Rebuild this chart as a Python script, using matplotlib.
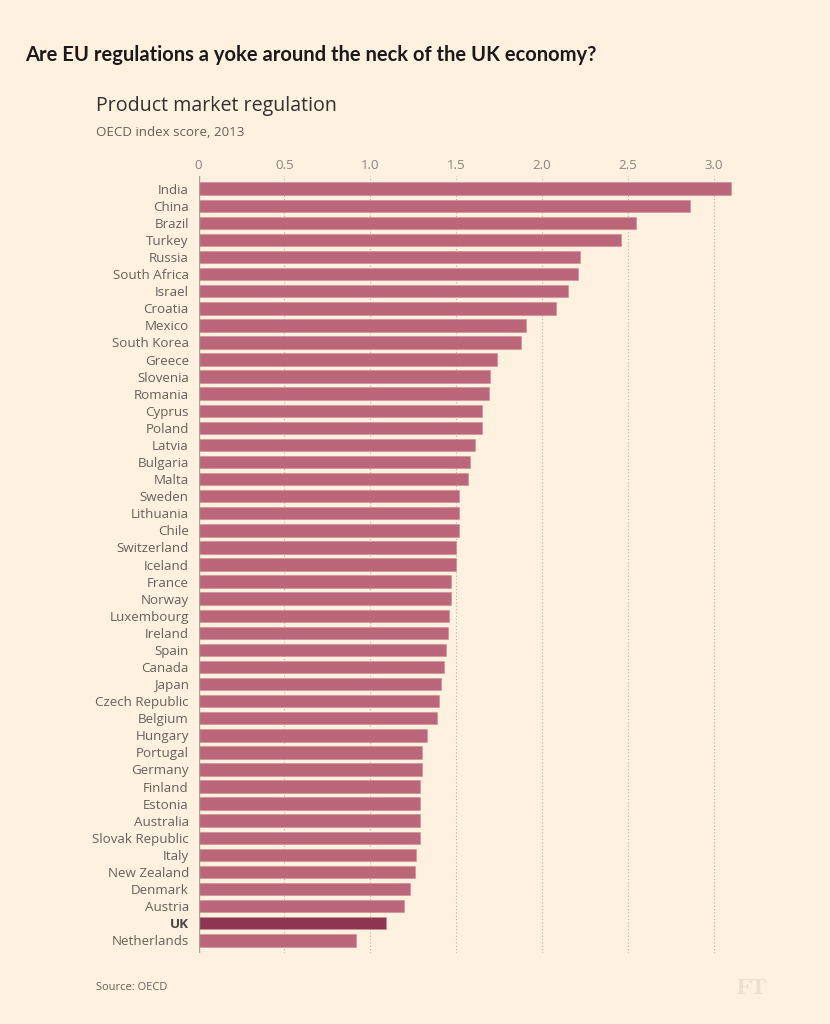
import matplotlib
matplotlib.use("Agg")
import matplotlib.pyplot as plt
from matplotlib import font_manager as fm

countries = ["India", "China", "Brazil", "Turkey", "Russia", "South Africa", "Israel",
             "Croatia", "Mexico", "South Korea", "Greece", "Slovenia", "Romania", "Cyprus",
             "Poland", "Latvia", "Bulgaria", "Malta", "Sweden", "Lithuania", "Chile",
             "Switzerland", "Iceland", "France", "Norway", "Luxembourg", "Ireland", "Spain",
             "Canada", "Japan", "Czech Republic", "Belgium", "Hungary", "Portugal", "Germany",
             "Finland", "Estonia", "Australia", "Slovak Republic", "Italy", "New Zealand",
             "Denmark", "Austria", "UK", "Netherlands"]
scores = [3.10, 2.86, 2.55, 2.46, 2.22, 2.21, 2.15, 2.08, 1.91, 1.88, 1.74, 1.70, 1.69,
          1.65, 1.65, 1.61, 1.58, 1.57, 1.52, 1.52, 1.52, 1.50, 1.50, 1.47, 1.47, 1.46,
          1.455, 1.44, 1.43, 1.41, 1.40, 1.39, 1.33, 1.30, 1.30, 1.29, 1.29, 1.29, 1.29,
          1.265, 1.26, 1.23, 1.195, 1.09, 0.92]
highlight = "UK"
xticks = [0, 0.5, 1.0, 1.5, 2.0, 2.5, 3.0]
xticklabels = ["0", "0.5", "1.0", "1.5", "2.0", "2.5", "3.0"]

available = {f.name for f in fm.fontManager.ttflist}
def pick(*names):
    for n in names:
        if n in available:
            return n
    return "DejaVu Sans"

body_font = pick("Liberation Sans Narrow", "Open Sans", "Lato", "DejaVu Sans")
head_font = pick("Lato", "Open Sans", "DejaVu Sans")

BG = "#fff1e0"
BAR = "#bc6679"
BAR_HI = "#8e3650"
GRID = "#b9b0a6"
TXT = "#66605c"

W, H = 830, 1024
fig = plt.figure(figsize=(W / 100, H / 100), dpi=100, facecolor=BG)

left_px, right_px = 198.5, 198.5 + 171.7 * 3.2
top_px, bot_px = 176, 953
ax = fig.add_axes([left_px / W, 1 - bot_px / H, (right_px - left_px) / W, (bot_px - top_px) / H])
ax.set_facecolor(BG)

n = len(countries)
ypos = list(range(n))
colors = [BAR_HI if c == highlight else BAR for c in countries]
ax.barh(ypos, scores, height=0.73, color=colors, edgecolor="#d08a9a", linewidth=0.4, zorder=3)

ax.set_xlim(0, 3.2)
ax.set_ylim(n - 1 + 0.744, -0.744)

for xv in xticks[1:]:
    ax.axvline(xv, color=GRID, lw=0.8, ls=(0, (1, 2)), zorder=1)
ax.axvline(0, color="#a8a09a", lw=1.0, zorder=4)

for s in ax.spines.values():
    s.set_visible(False)

ax.xaxis.tick_top()
ax.set_xticks(xticks)
ax.set_xticklabels(xticklabels, fontsize=9.5, color="#8a837d", family=body_font)
ax.tick_params(axis="x", length=0, pad=3)

ax.set_yticks(ypos)
ax.set_yticklabels(countries, fontsize=9.6, color=TXT, family=body_font)
ax.tick_params(axis="y", length=0, pad=7)
for lbl in ax.get_yticklabels():
    if lbl.get_text() == highlight:
        lbl.set_fontweight("bold")
        lbl.set_color("#4a4541")

fig.text(25 / W, 1 - 55 / H, "Are EU regulations a yoke around the neck of the UK economy?",
         fontsize=14.5, fontweight="bold", color="#1a1a1a", family=head_font, va="center", ha="left")
fig.text(96 / W, 1 - 106 / H, "Product market regulation", fontsize=14.1, color="#33302e",
         family=body_font, va="center", ha="left")
fig.text(96 / W, 1 - 133 / H, "OECD index score, 2013", fontsize=9.6, color=TXT,
         family=body_font, va="center", ha="left")
fig.text(96 / W, 1 - 988 / H, "Source: OECD", fontsize=8, color=TXT,
         family=body_font, va="center", ha="left")
fig.text(752 / W, 1 - 989 / H, "FT", fontsize=17, color="#ebded2", fontweight="bold",
         family=pick("Liberation Serif", "DejaVu Serif"), va="center", ha="center")

fig.savefig("out.png", dpi=100, facecolor=BG)
